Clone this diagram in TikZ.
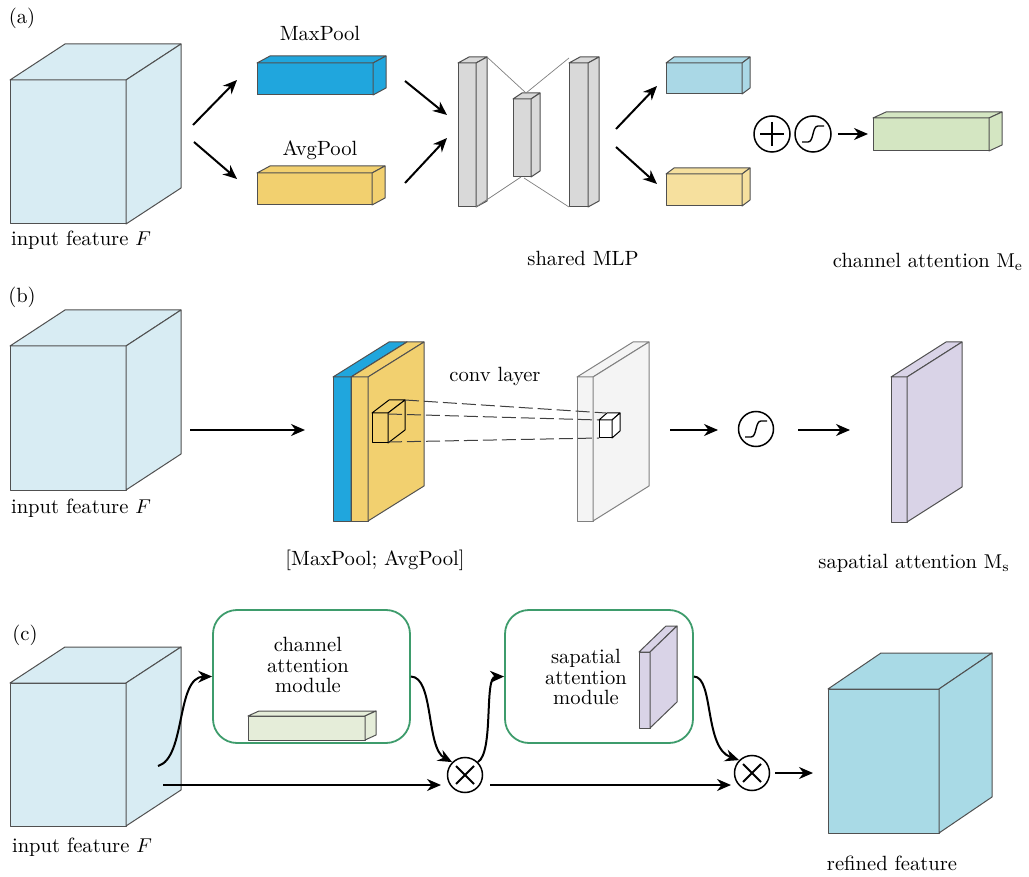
\documentclass[tikz,border=0pt]{standalone}
\usetikzlibrary{arrows.meta}
\definecolor{cubeblue}{HTML}{D8ECF3}
\definecolor{maxblue}{HTML}{20A6DD}
\definecolor{avgyellow}{HTML}{F2D06F}
\definecolor{mlpgray}{HTML}{D9D9D9}
\definecolor{outblue}{HTML}{AAD8E6}
\definecolor{outyellow}{HTML}{F6E09E}
\definecolor{outgreen}{HTML}{D4E6C2}
\definecolor{slabwhite}{HTML}{F4F4F4}
\definecolor{attpurple}{HTML}{D9D3E7}
\definecolor{modgreen}{HTML}{3E9C6C}
\definecolor{cambar}{HTML}{E5EDD9}
\definecolor{refblue}{HTML}{A9DAE6}
\definecolor{edgegray}{HTML}{505050}

% cuboid: front face at (x,y) with width w, height h (y grows downward), depth offset (dx,dy)
\newcommand{\drawcuboid}[7][]{%
  \filldraw[boxedge,#1] (#2,#3) rectangle ++(#4,#5);
  \filldraw[boxedge,#1] (#2,#3) -- ++(#6,-#7) -- ++(#4,0) -- ++(-#6,#7) -- cycle;
  \filldraw[boxedge,#1] (#2+#4,#3) -- ++(#6,-#7) -- ++(0,#5) -- ++(-#6,#7) -- cycle;
}
\newcommand{\sigmoidglyph}[1]{%
  \draw[line width=0.7pt,shift={(#1.center)}] (-11,8) -- (-5,8) .. controls (1,8) and (-1,-8) .. (5,-8) -- (11,-8);
}
\newcommand{\plusglyph}[1]{%
  \draw[line width=0.9pt,shift={(#1.center)}] (-12,0) -- (12,0) (0,-12) -- (0,12);
}
\newcommand{\timesglyph}[1]{%
  \draw[line width=0.9pt,shift={(#1.center)}] (-9,-9) -- (9,9) (-9,9) -- (9,-9);
}

\tikzset{
  boxedge/.style={draw=edgegray, line width=0.5pt, line join=round},
  conn/.style={line width=1pt, -{Stealth[length=7pt,width=6pt]}},
  opcirc/.style={circle, draw, line width=0.75pt, minimum size=17.5pt, inner sep=0pt},
  lbl/.style={font=\fontsize{10.3}{10.4}\selectfont, inner sep=0pt, align=center},
  modbox/.style={draw=modgreen, line width=0.9pt, rounded corners=12pt},
  mlpline/.style={draw=gray, line width=0.35pt},
  convline/.style={draw=black!75, line width=0.5pt, dash pattern=on 7pt off 2.5pt},
}

\begin{document}
\begin{tikzpicture}[x=0.5pt,y=-0.5pt]
\useasboundingbox[fill=white] (0,0) rectangle (1029,877);

% ---------------- (a) channel attention ----------------
\node[lbl] (taga) at (22,18) {(a)};
\drawcuboid[fill=cubeblue]{10}{80}{116}{144}{55}{36}
\node[lbl] (inA) at (81,240) {input feature $F$};
\coordinate (a1) at (193,125);
\coordinate (a2) at (194,142);

\drawcuboid[fill=maxblue]{257}{63}{116}{32}{13}{7}
\node[lbl] (maxl) at (320,33) {MaxPool};
\drawcuboid[fill=avgyellow]{257}{173}{115}{32}{13}{7}
\node[lbl] (avgl) at (320,150) {AvgPool};
\coordinate (maxin) at (237,80);
\coordinate (avgin) at (237,179);
\draw[conn] (a1) -- (maxin);
\draw[conn] (a2) -- (avgin);

\coordinate (maxout) at (405,81);
\coordinate (avgout) at (405,183);
\coordinate (mlpin1) at (447,115);
\coordinate (mlpin2) at (447,138);
\draw[conn] (maxout) -- (mlpin1);
\draw[conn] (avgout) -- (mlpin2);

% shared MLP
\drawcuboid[fill=mlpgray]{458}{63}{18}{144}{11}{6}
\drawcuboid[fill=mlpgray]{513}{99}{18}{78}{9}{6}
\drawcuboid[fill=mlpgray]{569}{63}{19}{144}{11}{6}
\draw[mlpline] (487,57) -- (526,93) -- (569,58);
\draw[mlpline] (476,207) -- (521,177);
\draw[mlpline] (524,178) -- (569,207);
\node[lbl] (mlpl) at (583,258) {shared MLP};

\coordinate (mlpout1) at (616,129);
\coordinate (mlpout2) at (616,147);
\coordinate (ob) at (657,86);
\coordinate (oy) at (657,184);
\draw[conn] (mlpout1) -- (ob);
\draw[conn] (mlpout2) -- (oy);
\drawcuboid[fill=outblue]{666}{63}{76}{31}{8}{6}
\drawcuboid[fill=outyellow]{666}{174}{76}{32}{8}{6}

\node[opcirc, minimum size=18pt] (addop) at (772,134) {};
\plusglyph{addop}
\node[opcirc, minimum size=18pt] (sig1) at (813,134) {};
\sigmoidglyph{sig1}
\coordinate (cain) at (868,134);
\draw[conn] (sig1.east) ++(6,0) -- (cain);
\drawcuboid[fill=outgreen]{873}{118}{116}{33}{13}{6}
\node[lbl] (cal) at (928,262) {channel attention $\mathrm{M_e}$};

% ---------------- (b) spatial attention ----------------
\node[lbl] (tagb) at (22,297) {(b)};
\drawcuboid[fill=cubeblue]{10}{346}{116}{144}{55}{36}
\node[lbl] (inB) at (81,508) {input feature $F$};
\coordinate (b1) at (190,430);
\coordinate (poolin) at (305,430);
\draw[conn] (b1) -- (poolin);

\drawcuboid[fill=maxblue]{333}{377}{18}{144}{56}{35}
\drawcuboid[fill=avgyellow]{351}{377}{17}{144}{56}{35}
\drawcuboid[fill=avgyellow, draw=black]{372}{413}{16}{30}{17}{13}
\node[lbl] (convl) at (495,376) {conv layer};
\node[lbl] (pooll) at (375,560) {[MaxPool; AvgPool]};

\drawcuboid[fill=slabwhite, draw=gray]{577}{377}{16}{144}{56}{35}
\drawcuboid[fill=white, draw=black]{599}{420}{13}{18}{8}{7}
\draw[convline] (405,400) -- (606,413);
\draw[convline] (388,414) -- (599,420);
\draw[convline] (388,442) -- (599,438);

\coordinate (b2) at (670,430);
\coordinate (b3) at (718,430);
\draw[conn] (b2) -- (b3);
\node[opcirc] (sig2) at (756,429) {};
\sigmoidglyph{sig2}
\coordinate (b4) at (798,430);
\coordinate (b5) at (850,430);
\draw[conn] (b4) -- (b5);
\drawcuboid[fill=attpurple]{891}{377}{16}{145}{55}{35}
\node[lbl] (sal) at (914,563) {sapatial attention $\mathrm{M_s}$};

% ---------------- (c) CBAM ----------------
\node[lbl] (tagc) at (25,635) {(c)};
\drawcuboid[fill=cubeblue]{10}{683}{116}{143}{55}{36}
\node[lbl] (inC) at (82,847) {input feature $F$};

\node[modbox, minimum width=98.5pt, minimum height=66.5pt] (cam) at (311.5,676.5) {};
\node[lbl] (caml) at (308,665) {channel\\attention\\module};
\drawcuboid[fill=cambar]{248}{716}{117}{24}{11}{5}

\node[modbox, minimum width=94pt, minimum height=66.5pt] (sam) at (599,676.5) {};
\node[lbl] (saml) at (586,677) {sapatial\\attention\\module};
\drawcuboid[fill=attpurple]{639}{652}{11}{76}{27}{26}

\node[opcirc] (mul1) at (465,775) {};
\timesglyph{mul1}
\node[opcirc] (mul2) at (752,773) {};
\timesglyph{mul2}

\coordinate (c1) at (158,766);
\coordinate (c2) at (163,785);
\coordinate (m1in) at (441,785);
\coordinate (m1out) at (490,785);
\coordinate (m2in) at (731,785);
\coordinate (m2out) at (775,773);
\coordinate (refin) at (813,773);

\draw[conn] (c1) .. controls (186,758) and (176,677) .. (cam.west);
\draw[conn] (cam.east) .. controls (434,677) and (426,748) .. (mul1.north west);
\draw[conn] (mul1.north east) .. controls (494,752) and (484,677) .. (sam.west);
\draw[conn] (sam.east) .. controls (714,677) and (704,748) .. (mul2.north west);
\draw[conn] (c2) -- (m1in);
\draw[conn] (m1out) -- (m2in);
\draw[conn] (m2out) -- (refin);

\drawcuboid[fill=refblue]{828}{689}{111}{144}{53}{36}
\node[lbl] (refl) at (892,863) {refined feature};
\end{tikzpicture}
\end{document}
